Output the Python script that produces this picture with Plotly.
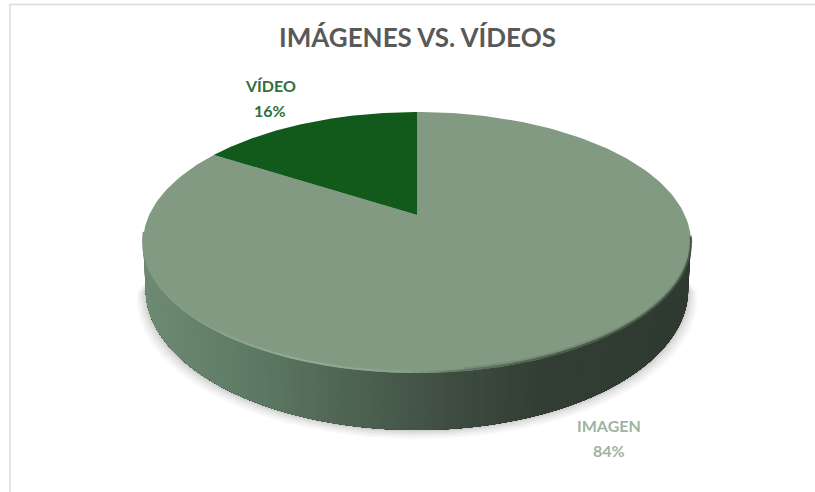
import numpy as np
import plotly.graph_objects as go

# --- data ---
categories = ["IMAGEN", "VÍDEO"]
shares = [84, 16]
title_text = "IMÁGENES VS. VÍDEOS"

# --- style ---
W, H = 815, 492
face_colors = {"IMAGEN": "#839a82", "VÍDEO": "#115a1c"}
label_colors = {"IMAGEN": "#9fb3a2", "VÍDEO": "#2f6f3c"}
label_pos = {"IMAGEN": (609, 425, 450), "VÍDEO": (270, 85.5, 110)}
FONT = "Lato"

# perspective projection of the unit disc on to the page
CX, Y0, A, B, K, D = 417, 215, 124.7, 267.8, 0.2107, 45


def project(theta, z=0.0, scale=1.0):
    """theta clockwise from 12 o'clock, z = 0 top face, z = 1 bottom face."""
    u, v = np.sin(theta), np.cos(theta)
    w = 1 + K * v
    return CX + scale * B * u / w, Y0 + (D * z - A * v) / w


def hex_rgb(c):
    return np.array([int(c[i:i + 2], 16) for i in (1, 3, 5)], float)


def ramp(x, stops):
    xs = [s[0] for s in stops]
    cs = np.array([hex_rgb(s[1]) for s in stops])
    return "rgb(%d,%d,%d)" % tuple(np.interp(x, xs, cs[:, i]) for i in range(3))


wall_stops = [(143, "#6f8b74"), (250, "#5f7b65"), (350, "#4f6553"),
              (450, "#404e42"), (540, "#333e34"), (691, "#2f3a30")]
rim_stops = [(143, "#7f9a84"), (300, "#92ae97"), (400, "#8aa48e"),
             (470, "#5f7362"), (560, "#4a5a4c"), (691, "#465547")]
WALL_FROM, WALL_TO = np.radians(99), np.radians(261)

fig = go.Figure()
line_off = dict(hoverinfo="skip", showlegend=False)

# soft ground shadow
th = np.linspace(WALL_FROM, WALL_TO, 120)
for grow, alpha in [(9, .035), (7, .04), (5, .05), (3, .06), (1.5, .07)]:
    x, y = project(th, 1, 0.99)
    fig.add_trace(go.Scatter(
        x=CX + (x - CX) * (1 + grow / 270), y=y + grow, mode="lines", fill="toself",
        fillcolor=f"rgba(60,60,60,{alpha})", line=dict(width=0), **line_off))

# side wall as a shaded band: right to left, each layer reaching to the far end
edges = np.linspace(WALL_FROM, WALL_TO, 201)
for t0 in edges[:-1]:
    tt = np.linspace(t0, edges[-1], 80)
    xt, yt = project(tt, 0)
    xb, yb = project(tt, 1, 0.99)
    col = ramp((xt[0] + xb[0]) / 2, wall_stops)
    fig.add_trace(go.Scatter(
        x=np.r_[xt, xb[::-1]], y=np.r_[yt, yb[::-1]], mode="lines", fill="toself",
        fillcolor=col, line=dict(width=0), **line_off))

# top face slices, from the shares
cum = np.cumsum([0] + shares) / sum(shares) * 2 * np.pi
for name, a0, a1 in zip(categories, cum[:-1], cum[1:]):
    tt = np.linspace(a0, a1, 240)
    x, y = project(tt)
    fig.add_trace(go.Scatter(
        x=np.r_[CX, x, CX], y=np.r_[Y0, y, Y0], mode="lines", fill="toself",
        fillcolor=face_colors[name], line=dict(width=0), name=name, hoverinfo="skip", showlegend=False))

# bevel along the front rim of the top face
rim_edges = np.radians(np.linspace(100, 262, 109))
for t0, t1 in zip(rim_edges[:-1], rim_edges[1:]):
    tt = np.linspace(t0, t1, 3)
    x, y = project(tt)
    col = ramp(x.mean(), rim_stops)
    if x.mean() > 460:
        fig.add_trace(go.Scatter(x=x, y=y - 2.5, mode="lines",
                                 line=dict(color="rgba(50,62,52,0.14)", width=3), **line_off))
    fig.add_trace(go.Scatter(x=x, y=y - 1, mode="lines", line=dict(color=col, width=2), **line_off))

# data labels and title, as real text
annotations = []
for name, val in zip(categories, shares):
    px, py_name, py_val = label_pos[name]
    for txt, py in ((name, py_name), (f"{val}%", py_val)):
        annotations.append(dict(
            x=px, y=py, xref="x", yref="y", showarrow=False, align="center",
            text=txt, font=dict(family=FONT, size=16, color=label_colors[name], weight=700)))
annotations.append(dict(
    x=417, y=36.5, xref="x", yref="y", showarrow=False, text=title_text,
    font=dict(family=FONT, size=26, color="#595959", weight=700)))

fig.update_layout(
    width=W, height=H, margin=dict(l=0, r=0, t=0, b=0),
    paper_bgcolor="white", plot_bgcolor="white", hovermode=False, showlegend=False,
    xaxis=dict(range=[0, W], visible=False, fixedrange=True),
    yaxis=dict(range=[H, 0], visible=False, fixedrange=True),
    annotations=annotations,
    shapes=[
        dict(type="line", xref="x", yref="y", x0=9.5, x1=W, y0=4.5, y1=4.5, line=dict(color="#dcdcdc", width=1.5)),
        dict(type="line", xref="x", yref="y", x0=10, x1=10, y0=4.5, y1=H, line=dict(color="#dcdcdc", width=1.5)),
    ],
)
fig.write_html("out.html", config={"displayModeBar": False},
               post_script="document.body.style.margin='0';document.documentElement.style.overflow='hidden';")
